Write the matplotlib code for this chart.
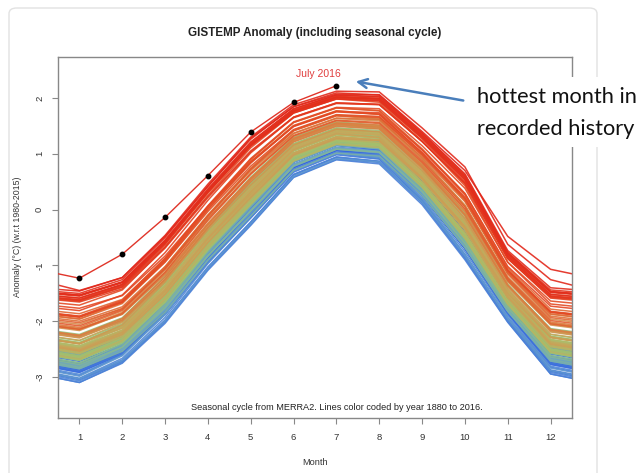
import numpy as np
import matplotlib
matplotlib.use("Agg")
import matplotlib.pyplot as plt
from matplotlib.colors import LinearSegmentedColormap
from matplotlib.patches import FancyBboxPatch, Rectangle

plt.rcParams['axes.unicode_minus'] = False
plt.rcParams['font.family'] = ['Liberation Sans', 'DejaVu Sans']

# ---------------- data ----------------
first_year = 1880
last_year = 2016
# GISTEMP annual mean anomalies (deg C, 1951-1980 base), 1880..2015
annual_anom = [
    -0.16, -0.08, -0.10, -0.16, -0.28, -0.32, -0.30, -0.35, -0.16, -0.10,
    -0.35, -0.22, -0.27, -0.31, -0.30, -0.22, -0.11, -0.11, -0.26, -0.17,
    -0.08, -0.15, -0.28, -0.37, -0.47, -0.26, -0.22, -0.39, -0.43, -0.48,
    -0.43, -0.44, -0.36, -0.34, -0.15, -0.14, -0.36, -0.46, -0.29, -0.27,
    -0.27, -0.19, -0.28, -0.26, -0.27, -0.22, -0.10, -0.21, -0.20, -0.36,
    -0.16, -0.09, -0.16, -0.29, -0.12, -0.20, -0.15, -0.03, 0.00, -0.02,
    0.13, 0.19, 0.07, 0.09, 0.20, 0.09, -0.07, -0.03, -0.11, -0.11,
    -0.17, -0.07, 0.01, 0.08, -0.13, -0.14, -0.19, 0.05, 0.06, 0.03,
    -0.03, 0.06, 0.03, 0.05, -0.20, -0.11, -0.06, -0.02, -0.08, 0.05,
    0.03, -0.08, 0.01, 0.16, -0.07, -0.01, -0.10, 0.18, 0.07, 0.16,
    0.26, 0.32, 0.14, 0.31, 0.16, 0.12, 0.18, 0.32, 0.39, 0.27,
    0.45, 0.40, 0.22, 0.23, 0.31, 0.45, 0.33, 0.46, 0.61, 0.38,
    0.39, 0.54, 0.63, 0.62, 0.53, 0.68, 0.64, 0.66, 0.54, 0.65,
    0.72, 0.61, 0.64, 0.68, 0.75, 0.90,
]
months = list(range(1, 13))
# seasonal cycle (value at zero anomaly w.r.t. 1980-2015) and per-month response
seasonal_cycle = [-1.82, -1.56, -0.82, 0.10, 0.93, 1.57, 1.83, 1.79, 1.11, 0.32, -1.01, -1.74]
month_gain = [1.40, 1.30, 1.32, 1.28, 1.30, 1.06, 1.00, 1.04, 1.10, 1.32, 1.10, 1.32]
weight_prev_year = [0.5, 0.4, 0.3, 0.2, 0.1, 0, 0, 0, 0, 0, 0, 0]
weight_next_year = [0, 0, 0, 0, 0, 0, 0, 0.1, 0.2, 0.3, 0.4, 0.5]
# explicitly read lines
values_2015 = [-1.45, -1.22, -0.48, 0.42, 1.28, 1.84, 2.07, 2.06, 1.40, 0.70, -0.48, -1.07]
values_2016 = [-1.23, -0.80, -0.14, 0.61, 1.39, 1.92, 2.22]

title = "GISTEMP Anomaly (including seasonal cycle)"
ylabel = "Anomaly (°C) (w.r.t 1980-2015)"
xlabel = "Month"
note = "Seasonal cycle from MERRA2. Lines color coded by year 1880 to 2016."
yticks = [-3, -2, -1, 0, 1, 2]

# ---------------- build monthly table ----------------
yrs = list(range(first_year, 2016))
a = np.array(annual_anom)
ref = a[[y - first_year for y in range(1980, 2016)]].mean()
rel = a - ref
n = len(yrs)
table = {}
for i, y in enumerate(yrs):
    if y == 2015:
        table[y] = np.array(values_2015)
        continue
    prev = rel[i - 1] if i > 0 else rel[i]
    nxt = rel[i + 1] if i + 1 < n else rel[i]
    vals = []
    for m in range(12):
        an = rel[i] + weight_prev_year[m] * (prev - rel[i]) + weight_next_year[m] * (nxt - rel[i])
        vals.append(seasonal_cycle[m] + month_gain[m] * an)
    table[y] = np.array(vals)

cmap = LinearSegmentedColormap.from_list("yr", [
    (0.00, "#2a55e6"), (0.18, "#3f74dc"), (0.30, "#68a2cc"), (0.42, "#8fc080"),
    (0.56, "#a8bf6a"), (0.68, "#c6a85c"), (0.78, "#dc7c40"), (0.86, "#e44e26"),
    (1.00, "#e2261a")])

# ---------------- figure ----------------
W, H = 644, 473
fig = plt.figure(figsize=(W / 100, H / 100), dpi=100)
card = FancyBboxPatch((9 / W, -0.05), (597 - 9) / W, (H - 8) / H + 0.05,
                      boxstyle="round,pad=0,rounding_size=0.012",
                      transform=fig.transFigure, facecolor="white",
                      edgecolor="#e2e2e2", lw=1.0, zorder=-2)
fig.add_artist(card)

ax = fig.add_axes([58 / W, 1 - 418 / H, (572 - 58) / W, (418 - 57) / H])
ax.set_facecolor("none")

span = last_year - first_year
for y in yrs:
    xs = list(months)
    ys = list(table[y])
    if y - 1 in table:
        xs = [0] + xs
        ys = [table[y - 1][11]] + ys
    if y + 1 in table:
        xs = xs + [13]
        ys = ys + [table[y + 1][0]]
    elif y == 2015:
        xs = xs + [13]
        ys = ys + [values_2016[0]]
    ax.plot(xs, ys, color=cmap((y - first_year) / span), lw=1.1, alpha=0.9)

x16 = [0] + months[:len(values_2016)]
y16 = [values_2015[11]] + values_2016
ax.plot(x16, y16, color="#e0352a", lw=1.0, zorder=5)
ax.plot(months[:len(values_2016)], values_2016, 'o', color="black", ms=3.2, zorder=6)
ax.text(6.57, 2.43, "July 2016", color="#e03c3c", fontsize=7.5, ha="center", va="center")

ax.text(7, -3.54, note, fontsize=6.6, ha="center", va="center", color="#222222")

ax.set_xlim(0.5, 12.5)
ax.set_ylim(-3.735, 2.735)
ax.set_xticks(months)
ax.set_yticks(yticks)
ax.set_yticklabels([str(t) for t in yticks], rotation=90, va="center")
for s in ax.spines.values():
    s.set_color("#888888")
    s.set_linewidth(1.0)
ax.tick_params(axis="x", length=4, width=0.8, color="#888888", pad=7, labelsize=6.8, labelcolor="#333333")
ax.tick_params(axis="y", length=4, width=0.8, color="#888888", pad=6, labelsize=6.8, labelcolor="#333333")

fig.text(315 / W, 1 - 33 / H, title, fontsize=8.4, fontweight="bold", ha="center", va="center", color="#222222")
fig.text(315 / W, 1 - 462 / H, xlabel, fontsize=6.6, ha="center", va="center", color="#333333")
fig.text(18 / W, 1 - 237 / H, ylabel, fontsize=6.3, rotation=90, ha="center", va="center", color="#333333")

# callout
fig.add_artist(Rectangle((466 / W, 1 - 147 / H), (W - 466) / W, 70 / H,
                         transform=fig.transFigure, facecolor="white", edgecolor="none", zorder=5))
fig.text(477 / W, 1 - 97 / H, "hottest month in", fontsize=15.7, family=["Lato", "DejaVu Sans"],
         ha="left", va="center", color="#111111", zorder=6)
fig.text(477 / W, 1 - 129 / H, "recorded history", fontsize=15.7, family=["Lato", "DejaVu Sans"],
         ha="left", va="center", color="#111111", zorder=6)
arr = plt.annotate("", xy=(353, H - 81), xycoords="figure pixels",
                   xytext=(466, H - 101), textcoords="figure pixels",
                   arrowprops=dict(arrowstyle="->", color="#4a7ebb", lw=1.8, mutation_scale=16))
arr.set_zorder(7)

fig.savefig("out.png", dpi=100)
